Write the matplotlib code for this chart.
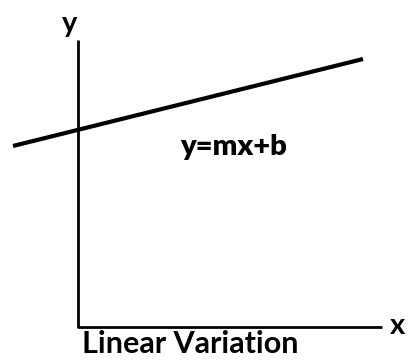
import matplotlib

matplotlib.use("Agg")
import matplotlib.pyplot as plt

# diagram geometry, in picture pixels (origin top-left)
axis_x = [78, 78, 382]
axis_y = [40, 327, 327]
line_x = [13, 363]
line_y = [146, 59]

plt.rcParams["font.family"] = ["Lato", "DejaVu Sans"]

fig = plt.figure(figsize=(4.09, 3.62), dpi=100)
ax = fig.add_axes([0, 0, 1, 1])
ax.set_xlim(0, 409)
ax.set_ylim(362, 0)
ax.axis("off")

ax.plot(axis_x, axis_y, color="black", lw=2.0, solid_capstyle="butt")
ax.plot(line_x, line_y, color="black", lw=3.0, solid_capstyle="butt")

ax.text(70, 24, "y", fontsize=21, fontweight="bold", ha="center", va="center")
ax.text(398, 326, "x", fontsize=21, fontweight="bold", ha="center", va="center")
ax.text(234, 155, "y=mx+b", fontsize=21, fontweight="heavy", ha="center", va="baseline")
ax.text(82, 353, "Linear Variation", fontsize=22, fontweight="bold", ha="left", va="baseline")

fig.savefig("out.png", dpi=100)
